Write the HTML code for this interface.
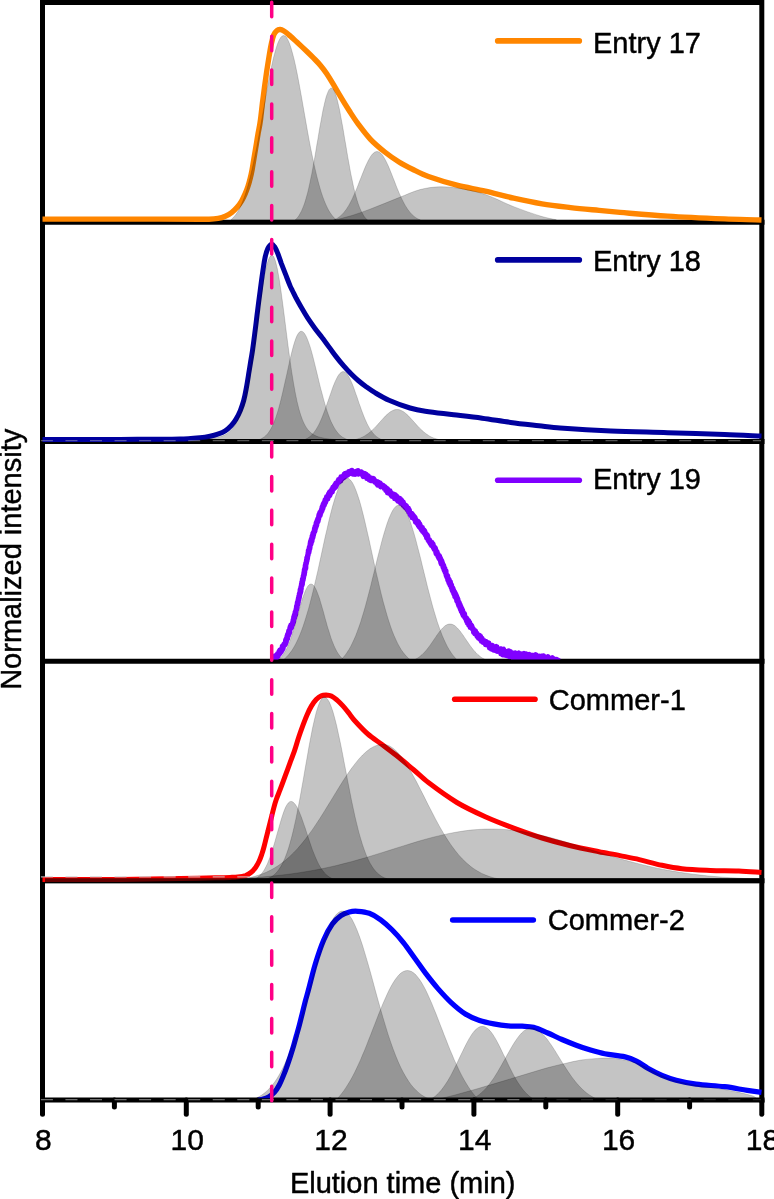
<!DOCTYPE html>
<html lang="en"><head><meta charset="utf-8"><title>Elution chromatograms</title>
<style>
html,body{margin:0;padding:0;background:#fff;}
body{width:774px;height:1199px;overflow:hidden;}
svg{display:block;}
</style></head><body>
<svg width="774" height="1199" viewBox="0 0 774 1199">
<rect width="774" height="1199" fill="#fff"/>
<defs><clipPath id="cp3"><rect x="0" y="440" width="774" height="219.4"/></clipPath><clipPath id="cp5"><rect x="0" y="880" width="774" height="218.2"/></clipPath></defs>
<g stroke="#000" stroke-width="5" fill="none" stroke-linecap="round">
<path d="M42.5,2.5 H761.8 M42.5,2.5 V1100.0 M761.8,2.5 V1100.0" stroke-linecap="square"/>
<path d="M40.0,222.2 H764.5" stroke-linecap="butt"/>
<path d="M40.0,441.6 H764.5" stroke-linecap="butt"/>
<path d="M40.0,661.3 H764.5" stroke-linecap="butt"/>
<path d="M40.0,880.7 H764.5" stroke-linecap="butt"/>
<path d="M40.0,1100.0 H764.5" stroke-linecap="butt"/>
<path d="M42.5,1100 V1114.3"/>
<path d="M114.4,1100 V1107"/>
<path d="M186.3,1100 V1114.3"/>
<path d="M258.2,1100 V1107"/>
<path d="M330.1,1100 V1114.3"/>
<path d="M402.0,1100 V1107"/>
<path d="M473.9,1100 V1114.3"/>
<path d="M545.8,1100 V1107"/>
<path d="M617.7,1100 V1114.3"/>
<path d="M689.6,1100 V1107"/>
<path d="M761.8,1100 V1114.3"/>
</g>
<path d="M42.5,219.1 C68.3,219.1 94.2,219.1 120.0,219.1 C146.7,219.1 173.3,219.2 200.0,219.2 C203.0,219.2 206.0,219.3 209.0,219.2 C212.0,219.1 215.1,218.9 218.1,218.4 C220.6,218.0 223.0,217.3 225.3,216.3 C227.5,215.4 229.7,214.2 231.6,212.7 C233.6,211.1 235.4,209.3 237.1,207.3 C238.8,205.3 240.3,203.2 241.6,201.0 C243.0,198.7 244.1,196.2 245.2,193.7 C246.2,191.3 247.1,188.9 247.9,186.5 C248.8,183.8 249.5,181.1 250.2,178.3 C250.9,175.6 251.5,172.9 252.0,170.2 C252.6,167.2 253.0,164.2 253.5,161.2 C254.0,158.2 254.5,155.1 255.0,152.1 C255.5,149.1 256.0,146.1 256.5,143.1 C257.0,140.1 257.5,137.0 258.0,134.0 C258.5,131.0 259.2,128.0 259.7,125.0 C260.0,123.0 260.3,121.0 260.6,119.0 C261.2,113.8 261.8,108.6 262.4,103.4 C263.1,98.0 263.8,92.5 264.5,87.1 C265.2,82.1 265.9,77.0 266.6,72.0 C267.4,67.0 268.2,61.9 269.0,56.9 C269.7,52.6 270.4,48.3 271.3,44.1 C272.0,41.0 272.6,37.8 273.8,34.8 C274.4,33.2 275.4,31.8 276.7,30.7 C277.6,29.9 279.0,29.4 280.2,29.5 C281.7,29.6 283.0,30.5 284.3,31.3 C286.4,32.6 288.2,34.3 290.1,35.9 C292.5,38.0 294.8,40.2 297.1,42.3 C300.2,45.2 303.3,48.1 306.4,51.0 C309.3,53.8 312.2,56.6 315.0,59.5 C316.9,61.4 318.8,63.4 320.5,65.5 C322.6,68.0 324.6,70.6 326.4,73.3 C329.1,77.3 331.6,81.5 334.1,85.7 C336.7,90.1 339.3,94.5 341.9,98.9 C344.4,103.1 347.0,107.2 349.6,111.3 C352.1,115.2 354.6,119.2 357.4,122.9 C361.6,128.5 365.7,134.2 370.5,139.3 C374.9,143.9 379.8,148.0 384.8,152.0 C389.3,155.6 394.1,158.9 399.0,162.0 C403.5,164.8 408.3,167.2 413.0,169.5 C418.1,172.0 423.1,174.6 428.4,176.5 C437.8,179.8 447.3,182.7 456.9,185.2 C466.3,187.6 475.9,189.0 485.3,191.2 C494.8,193.4 504.2,196.1 513.7,198.2 C523.1,200.3 532.5,202.3 542.0,203.9 C551.5,205.5 561.0,206.5 570.6,207.6 C580.1,208.7 589.5,209.5 599.0,210.4 C606.0,211.1 613.0,211.8 620.0,212.4 C635.9,213.7 651.8,215.1 667.7,216.1 C686.7,217.3 705.6,218.1 724.6,218.9 C736.9,219.4 749.2,219.6 761.5,220.0" fill="none" stroke="#ff8600" stroke-width="5.4" stroke-linejoin="round" stroke-linecap="butt"/>
<path d="M42.5,439.4 C68.3,439.4 94.2,439.5 120.0,439.4 C140.0,439.3 160.0,439.4 180.0,439.0 C186.7,438.9 193.3,438.3 200.0,437.7 C203.4,437.4 206.7,436.9 210.0,436.2 C212.9,435.6 215.7,434.8 218.5,433.8 C220.8,433.0 223.1,432.1 225.2,430.8 C227.4,429.4 229.3,427.6 231.1,425.7 C233.0,423.7 234.7,421.4 236.1,419.0 C237.7,416.3 239.1,413.5 240.3,410.6 C241.6,407.3 242.8,403.9 243.7,400.5 C244.7,396.7 245.5,392.7 246.2,388.8 C247.1,383.8 247.9,378.7 248.7,373.7 C249.3,369.8 250.0,365.9 250.6,362.0 C251.3,358.0 252.0,353.9 252.6,349.9 C253.5,343.5 254.3,337.2 255.1,330.8 C256.0,324.1 256.7,317.3 257.6,310.6 C258.4,303.9 259.3,297.2 260.2,290.5 C261.0,284.3 261.8,278.2 262.7,272.0 C263.5,267.0 264.1,261.9 265.2,256.9 C265.8,254.0 266.6,251.0 267.9,248.3 C268.7,246.7 269.7,244.8 271.4,244.4 C272.7,244.1 273.8,245.7 274.6,246.8 C276.0,248.8 276.9,251.2 277.8,253.5 C279.0,256.5 280.0,259.7 281.1,262.8 C282.5,266.5 283.9,270.1 285.3,273.7 C287.0,278.0 288.6,282.3 290.4,286.6 C290.9,287.8 291.5,288.9 292.1,290.0 C293.5,292.8 294.8,295.6 296.2,298.3 C297.9,301.4 299.6,304.5 301.4,307.6 C303.4,311.1 305.4,314.5 307.6,317.9 C309.9,321.4 312.3,324.8 314.8,328.2 C317.1,331.4 319.6,334.4 322.0,337.5 C324.5,340.8 326.9,344.1 329.3,347.4 C331.7,350.6 334.0,353.9 336.5,357.1 C338.8,360.1 341.2,363.0 343.7,365.9 C346.1,368.6 348.5,371.3 351.0,373.8 C353.3,376.1 355.7,378.4 358.2,380.5 C360.6,382.5 363.0,384.5 365.5,386.3 C368.6,388.5 371.7,390.8 375.0,392.7 C379.6,395.4 384.1,398.1 389.0,400.2 C395.8,403.2 402.9,405.8 410.0,408.0 C415.0,409.5 420.1,410.5 425.3,411.3 C434.7,412.8 444.2,413.6 453.7,414.8 C463.2,415.9 472.6,416.9 482.1,418.2 C491.6,419.5 501.1,421.1 510.6,422.4 C520.1,423.7 529.5,424.7 539.0,425.8 C546.0,426.6 553.0,427.6 560.0,428.1 C576.9,429.3 593.9,430.3 610.9,431.0 C629.8,431.8 648.8,432.1 667.7,432.7 C686.7,433.3 705.6,433.7 724.6,434.4 C736.9,434.8 749.2,435.5 761.5,436.1" fill="none" stroke="#00009e" stroke-width="5.0" stroke-linejoin="round" stroke-linecap="butt"/>
<path d="M271.5,660.6 L271.9,660.4 L272.3,660.3 L272.8,660.1 L273.1,658.8 L273.5,659.8 L273.8,658.8 L274.1,659.5 L274.4,659.3 L274.7,656.6 L275.0,656.1 L275.3,659.3 L275.6,656.6 L275.9,656.2 L276.2,659.1 L276.4,656.6 L276.7,657.8 L277.0,656.0 L277.3,656.3 L277.5,654.0 L277.8,655.7 L278.0,656.3 L278.3,654.5 L278.5,655.1 L278.7,654.5 L279.0,651.6 L279.2,654.2 L279.4,653.1 L279.6,651.6 L279.9,650.1 L280.1,653.2 L280.3,651.2 L280.5,651.9 L280.7,652.3 L280.9,651.2 L281.2,651.7 L281.4,649.2 L281.6,650.5 L281.8,648.7 L282.0,650.4 L282.2,649.8 L282.4,646.2 L282.6,646.0 L282.8,645.9 L283.0,648.7 L283.2,646.2 L283.4,646.6 L283.6,644.9 L283.8,645.4 L283.9,644.5 L284.1,644.0 L284.3,644.6 L284.5,644.2 L284.7,645.2 L284.9,643.9 L285.0,644.6 L285.2,643.9 L285.4,644.1 L285.5,642.4 L285.7,639.9 L285.9,642.4 L286.0,642.5 L286.2,641.8 L286.3,640.0 L286.5,640.3 L286.6,637.8 L286.8,640.0 L286.9,638.5 L287.1,636.9 L287.2,635.6 L287.4,638.6 L287.5,638.7 L287.6,634.6 L287.8,637.2 L287.9,635.1 L288.0,633.7 L288.2,633.9 L288.3,635.5 L288.4,635.5 L288.6,631.7 L288.7,633.7 L288.8,630.9 L289.0,633.3 L289.1,631.3 L289.2,633.2 L289.4,633.2 L289.5,630.9 L289.6,632.5 L289.8,629.3 L289.9,627.9 L290.1,629.7 L290.2,626.9 L290.3,627.3 L290.5,627.8 L290.6,628.2 L290.8,626.0 L290.9,625.1 L291.0,628.2 L291.2,625.5 L291.3,627.8 L291.5,627.2 L291.6,624.6 L291.8,624.6 L291.9,624.5 L292.1,624.6 L292.2,624.0 L292.3,623.5 L292.5,623.4 L292.6,624.4 L292.8,622.2 L292.9,621.5 L293.0,622.3 L293.2,619.9 L293.3,619.8 L293.4,622.3 L293.6,620.0 L293.7,619.7 L293.8,617.1 L293.9,618.4 L294.1,618.7 L294.2,616.0 L294.3,618.1 L294.4,617.8 L294.5,615.0 L294.6,617.0 L294.7,615.9 L294.8,616.4 L294.9,614.6 L295.0,615.7 L295.1,615.5 L295.2,612.1 L295.3,611.9 L295.4,614.1 L295.5,614.9 L295.6,611.5 L295.7,612.0 L295.8,612.2 L295.9,610.6 L296.0,610.4 L296.1,609.8 L296.2,609.6 L296.2,610.2 L296.3,608.6 L296.4,608.5 L296.5,609.8 L296.6,606.3 L296.7,608.1 L296.8,608.4 L296.8,606.3 L296.9,605.5 L297.0,607.6 L297.1,604.8 L297.2,604.2 L297.3,604.8 L297.4,605.5 L297.4,602.6 L297.5,603.2 L297.6,602.8 L297.7,604.5 L297.8,602.5 L297.9,603.9 L298.0,600.6 L298.0,600.9 L298.1,601.8 L298.2,602.4 L298.3,600.2 L298.4,598.9 L298.5,598.0 L298.6,599.4 L298.7,597.5 L298.7,599.7 L298.8,599.5 L298.9,596.3 L299.0,596.3 L299.1,598.2 L299.2,597.1 L299.3,597.4 L299.4,595.1 L299.4,593.8 L299.5,594.1 L299.6,595.8 L299.7,593.2 L299.8,593.1 L299.9,593.0 L300.0,592.6 L300.0,592.2 L300.1,594.0 L300.2,590.4 L300.3,589.3 L300.4,592.9 L300.5,592.2 L300.6,592.3 L300.6,589.6 L300.7,591.4 L300.8,590.9 L300.9,587.5 L301.0,589.3 L301.1,589.3 L301.2,588.2 L301.2,587.2 L301.3,585.8 L301.4,585.7 L301.5,584.8 L301.6,583.7 L301.7,585.5 L301.7,583.9 L301.8,585.7 L301.9,582.1 L302.0,585.3 L302.1,584.0 L302.2,584.6 L302.3,584.1 L302.3,583.7 L302.4,581.9 L302.5,579.2 L302.6,581.8 L302.7,579.0 L302.8,579.2 L302.8,580.3 L302.9,579.3 L303.0,578.4 L303.1,580.2 L303.2,578.5 L303.3,576.9 L303.3,576.2 L303.4,578.3 L303.5,576.3 L303.6,577.2 L303.7,575.0 L303.8,573.9 L303.8,574.9 L303.9,575.7 L304.0,572.6 L304.1,574.8 L304.2,575.0 L304.3,574.1 L304.3,573.8 L304.4,569.9 L304.5,572.1 L304.6,572.7 L304.7,568.9 L304.8,569.4 L304.8,569.0 L304.9,569.7 L305.0,568.9 L305.1,568.7 L305.2,569.6 L305.3,565.9 L305.3,565.7 L305.4,565.6 L305.5,565.2 L305.6,564.6 L305.7,568.0 L305.7,567.1 L305.8,563.5 L305.9,564.8 L306.0,563.6 L306.1,563.2 L306.2,563.0 L306.2,563.8 L306.3,563.2 L306.4,561.8 L306.5,560.7 L306.5,560.9 L306.6,559.6 L306.7,561.0 L306.8,561.3 L306.9,559.5 L306.9,557.8 L307.0,557.8 L307.1,558.3 L307.2,558.8 L307.3,559.2 L307.3,557.1 L307.4,558.4 L307.5,557.3 L307.6,556.1 L307.7,555.4 L307.8,555.6 L307.8,556.0 L307.9,554.4 L308.0,555.2 L308.1,553.8 L308.2,552.5 L308.3,553.3 L308.4,553.6 L308.4,550.6 L308.5,551.7 L308.6,551.3 L308.7,552.8 L308.8,552.6 L308.9,549.9 L309.0,551.7 L309.1,550.8 L309.2,548.2 L309.3,548.7 L309.4,546.9 L309.5,549.4 L309.6,548.3 L309.7,548.9 L309.8,548.1 L309.9,547.2 L310.0,547.1 L310.1,546.0 L310.2,543.7 L310.3,545.3 L310.4,542.5 L310.5,542.7 L310.6,544.9 L310.7,541.5 L310.8,541.3 L310.9,540.9 L311.0,543.8 L311.1,540.5 L311.2,539.5 L311.3,542.5 L311.5,539.1 L311.6,541.8 L311.7,540.7 L311.8,541.0 L311.9,541.1 L312.0,539.1 L312.1,539.6 L312.2,536.1 L312.3,538.7 L312.5,537.3 L312.6,537.7 L312.7,534.8 L312.8,537.1 L312.9,537.5 L313.0,533.5 L313.1,534.2 L313.2,534.8 L313.4,535.5 L313.5,532.7 L313.6,532.0 L313.7,531.9 L313.8,533.1 L313.9,533.3 L314.0,531.4 L314.2,530.9 L314.3,530.6 L314.4,530.0 L314.5,529.9 L314.6,528.1 L314.8,529.5 L314.9,531.1 L315.0,528.4 L315.1,529.4 L315.2,526.5 L315.4,528.4 L315.5,528.3 L315.6,527.5 L315.7,526.5 L315.8,526.0 L316.0,526.2 L316.1,526.9 L316.2,523.4 L316.3,522.8 L316.5,525.1 L316.6,525.5 L316.7,523.4 L316.8,522.7 L317.0,523.5 L317.1,520.9 L317.2,520.8 L317.4,520.2 L317.5,521.4 L317.6,519.9 L317.7,519.1 L317.9,520.7 L318.0,521.4 L318.1,518.3 L318.3,519.6 L318.4,518.0 L318.5,519.4 L318.7,517.9 L318.8,516.2 L318.9,515.6 L319.1,514.4 L319.2,516.0 L319.3,515.2 L319.5,513.9 L319.6,514.3 L319.7,513.8 L319.9,515.3 L320.0,512.3 L320.1,515.5 L320.3,512.9 L320.4,513.1 L320.6,512.1 L320.7,513.3 L320.8,512.9 L321.0,511.4 L321.1,510.7 L321.3,511.3 L321.4,511.5 L321.6,509.2 L321.7,510.2 L321.9,510.8 L322.0,508.4 L322.2,507.0 L322.3,506.6 L322.5,508.3 L322.6,507.7 L322.8,508.6 L322.9,507.8 L323.1,504.8 L323.3,504.2 L323.4,504.2 L323.6,503.5 L323.8,505.3 L323.9,505.6 L324.1,505.4 L324.3,502.3 L324.5,504.5 L324.7,501.8 L324.9,501.9 L325.0,502.8 L325.2,499.8 L325.4,499.4 L325.6,502.2 L325.8,499.5 L326.0,499.5 L326.2,500.0 L326.4,500.1 L326.6,496.9 L326.8,497.9 L327.0,498.0 L327.2,497.9 L327.4,496.3 L327.6,497.6 L327.8,498.8 L328.0,496.0 L328.2,496.3 L328.5,494.2 L328.7,494.5 L328.9,495.8 L329.1,493.1 L329.3,496.0 L329.5,495.8 L329.7,492.0 L329.9,495.2 L330.1,492.5 L330.4,493.8 L330.6,493.4 L330.8,491.2 L331.0,492.4 L331.2,492.0 L331.5,492.3 L331.7,489.7 L331.9,491.4 L332.2,492.0 L332.4,490.4 L332.6,489.5 L332.9,487.4 L333.1,488.7 L333.3,487.8 L333.6,489.0 L333.8,488.5 L334.0,487.7 L334.3,485.8 L334.5,487.4 L334.7,487.0 L335.0,484.8 L335.2,487.5 L335.5,486.1 L335.7,483.6 L336.0,486.6 L336.2,483.0 L336.5,483.5 L336.7,484.8 L337.0,483.9 L337.2,483.4 L337.5,483.5 L337.7,482.4 L338.0,481.5 L338.3,480.6 L338.5,479.8 L338.8,482.2 L339.1,482.1 L339.3,480.9 L339.6,481.4 L339.9,479.5 L340.1,478.8 L340.4,479.0 L340.7,480.8 L341.0,477.0 L341.2,478.6 L341.5,477.3 L341.8,479.2 L342.1,477.2 L342.4,476.8 L342.7,476.8 L342.9,477.1 L343.2,477.8 L343.5,475.8 L343.9,477.6 L344.2,474.3 L344.5,474.7 L344.8,473.7 L345.1,473.5 L345.5,476.1 L345.8,475.7 L346.2,473.2 L346.6,473.0 L346.9,473.7 L347.3,474.9 L347.7,475.0 L348.0,474.6 L348.4,473.7 L348.8,471.7 L349.2,472.6 L349.6,471.6 L350.0,472.9 L350.4,473.0 L350.8,471.3 L351.2,471.5 L351.6,473.6 L352.0,470.4 L352.4,473.6 L352.8,473.9 L353.2,474.1 L353.6,471.8 L354.1,472.5 L354.5,472.6 L354.9,472.8 L355.3,474.3 L355.7,473.1 L356.1,471.5 L356.5,473.9 L356.9,472.4 L357.3,473.0 L357.7,473.6 L358.1,470.6 L358.5,474.0 L358.9,473.6 L359.3,473.1 L359.7,473.3 L360.1,473.2 L360.5,472.2 L360.9,473.8 L361.3,471.9 L361.7,474.0 L362.1,474.7 L362.4,474.0 L362.8,474.7 L363.2,476.5 L363.5,476.4 L363.9,473.4 L364.3,476.4 L364.6,475.9 L365.0,473.6 L365.4,475.1 L365.7,474.8 L366.1,474.3 L366.5,476.5 L366.8,478.3 L367.2,476.0 L367.5,478.5 L367.9,477.9 L368.2,475.8 L368.6,479.0 L369.0,478.1 L369.3,479.7 L369.7,479.0 L370.0,479.3 L370.4,477.9 L370.7,480.0 L371.0,480.7 L371.4,480.7 L371.7,479.1 L372.1,480.6 L372.4,479.7 L372.8,478.3 L373.1,478.3 L373.5,478.6 L373.8,479.4 L374.1,479.4 L374.5,481.1 L374.8,482.1 L375.1,481.7 L375.5,481.4 L375.8,482.6 L376.1,481.4 L376.5,482.3 L376.8,483.8 L377.1,482.5 L377.4,481.8 L377.8,485.1 L378.1,484.6 L378.4,483.3 L378.8,483.6 L379.1,484.5 L379.4,485.0 L379.7,483.7 L380.1,483.0 L380.4,484.1 L380.7,486.8 L381.0,484.3 L381.3,485.9 L381.7,485.1 L382.0,485.4 L382.3,485.4 L382.6,486.7 L383.0,485.9 L383.3,485.6 L383.6,486.2 L383.9,486.7 L384.2,488.3 L384.6,486.7 L384.9,486.8 L385.2,488.8 L385.5,488.9 L385.8,490.4 L386.2,487.9 L386.5,489.6 L386.8,489.9 L387.1,488.6 L387.5,492.8 L387.8,489.9 L388.1,489.6 L388.4,491.5 L388.8,490.4 L389.1,492.6 L389.4,491.7 L389.7,491.0 L390.0,491.0 L390.4,494.1 L390.7,492.4 L391.0,494.8 L391.3,493.7 L391.7,496.0 L392.0,493.6 L392.3,493.6 L392.6,493.9 L393.0,496.5 L393.3,496.0 L393.6,495.0 L393.9,494.3 L394.2,497.0 L394.6,498.5 L394.9,497.1 L395.2,494.9 L395.5,495.3 L395.8,495.8 L396.1,496.4 L396.5,496.0 L396.8,496.4 L397.1,499.1 L397.4,500.4 L397.8,497.7 L398.1,501.2 L398.4,499.4 L398.7,501.0 L399.1,501.7 L399.4,502.0 L399.7,498.5 L400.0,499.8 L400.3,501.4 L400.7,503.0 L401.0,499.7 L401.3,500.8 L401.6,503.4 L401.9,500.6 L402.2,502.0 L402.5,502.1 L402.8,503.8 L403.0,505.1 L403.3,502.2 L403.6,504.9 L403.9,505.2 L404.1,505.9 L404.4,505.0 L404.7,506.9 L404.9,504.9 L405.2,505.4 L405.4,505.0 L405.7,507.6 L405.9,506.7 L406.2,506.1 L406.4,506.0 L406.7,508.7 L406.9,508.5 L407.1,509.3 L407.4,508.3 L407.6,509.0 L407.8,508.0 L408.1,510.6 L408.3,508.1 L408.5,510.3 L408.7,511.9 L409.0,511.9 L409.2,509.8 L409.4,510.7 L409.7,513.6 L409.9,513.1 L410.1,514.4 L410.3,514.7 L410.6,513.3 L410.8,515.5 L411.0,515.1 L411.3,513.8 L411.5,514.3 L411.8,513.4 L412.0,515.1 L412.2,517.7 L412.5,514.5 L412.7,516.8 L413.0,515.2 L413.2,515.4 L413.5,518.1 L413.7,516.7 L414.0,516.2 L414.2,517.0 L414.5,519.4 L414.7,519.4 L415.0,517.4 L415.2,518.6 L415.5,522.0 L415.7,519.2 L416.0,521.0 L416.2,520.7 L416.5,522.5 L416.7,522.1 L417.0,523.2 L417.2,522.5 L417.5,521.3 L417.7,521.6 L418.0,521.5 L418.2,525.0 L418.5,522.3 L418.7,522.3 L419.0,526.6 L419.2,523.7 L419.4,526.9 L419.7,523.9 L419.9,525.8 L420.2,525.1 L420.4,528.0 L420.6,527.4 L420.9,527.9 L421.1,528.7 L421.3,529.5 L421.6,527.6 L421.8,529.0 L422.0,528.7 L422.3,527.6 L422.5,531.0 L422.7,530.4 L423.0,531.6 L423.2,529.4 L423.4,531.1 L423.7,531.2 L423.9,532.6 L424.1,530.2 L424.3,531.7 L424.6,532.6 L424.8,531.2 L425.0,533.6 L425.3,534.7 L425.5,533.7 L425.7,535.0 L425.9,535.2 L426.2,533.9 L426.4,534.8 L426.6,537.8 L426.8,535.4 L427.0,536.1 L427.3,535.0 L427.5,535.9 L427.7,536.1 L427.9,539.6 L428.1,539.1 L428.4,540.1 L428.6,540.9 L428.8,539.7 L429.0,541.4 L429.2,540.0 L429.5,539.9 L429.7,542.5 L429.9,542.6 L430.1,543.2 L430.3,541.5 L430.5,543.1 L430.7,541.9 L431.0,544.7 L431.2,544.8 L431.4,542.5 L431.6,545.5 L431.8,542.7 L432.0,542.7 L432.2,545.7 L432.5,544.2 L432.7,545.5 L432.9,546.4 L433.1,544.2 L433.3,547.5 L433.5,545.9 L433.7,546.9 L433.9,546.9 L434.1,548.9 L434.3,549.3 L434.5,547.7 L434.7,547.3 L434.9,548.4 L435.1,549.3 L435.3,548.2 L435.5,548.9 L435.7,551.8 L435.9,551.9 L436.1,553.4 L436.3,553.8 L436.5,553.7 L436.7,552.0 L436.9,551.4 L437.1,552.4 L437.3,553.4 L437.5,554.1 L437.6,554.5 L437.8,554.1 L438.0,556.5 L438.2,554.5 L438.4,555.6 L438.6,557.8 L438.7,557.8 L438.9,556.0 L439.1,556.1 L439.3,558.9 L439.4,555.9 L439.6,556.8 L439.8,558.8 L440.0,559.2 L440.1,558.0 L440.3,557.9 L440.5,558.9 L440.6,561.7 L440.8,560.8 L441.0,563.3 L441.2,562.9 L441.3,564.0 L441.5,560.4 L441.7,561.4 L441.8,561.1 L442.0,563.2 L442.2,563.2 L442.3,562.4 L442.5,564.8 L442.6,563.3 L442.8,564.6 L443.0,564.7 L443.1,567.4 L443.3,566.2 L443.5,565.9 L443.6,565.3 L443.8,567.3 L443.9,568.5 L444.1,569.1 L444.2,570.4 L444.4,570.4 L444.5,568.4 L444.7,568.3 L444.8,571.3 L445.0,571.8 L445.1,571.0 L445.3,572.7 L445.4,571.9 L445.6,571.1 L445.7,571.0 L445.9,570.8 L446.0,573.8 L446.2,575.2 L446.3,575.6 L446.4,574.2 L446.6,575.4 L446.7,576.8 L446.9,576.7 L447.0,576.2 L447.2,575.8 L447.3,576.6 L447.5,575.5 L447.6,576.0 L447.7,578.4 L447.9,580.1 L448.0,578.6 L448.2,578.4 L448.3,578.5 L448.5,579.3 L448.6,581.2 L448.8,580.1 L448.9,582.6 L449.1,579.6 L449.3,580.6 L449.4,581.8 L449.6,581.7 L449.7,584.0 L449.9,584.2 L450.0,585.0 L450.2,584.1 L450.4,582.0 L450.5,584.6 L450.7,584.9 L450.8,585.0 L451.0,584.5 L451.2,586.7 L451.3,587.9 L451.5,584.9 L451.7,587.6 L451.8,586.7 L452.0,587.7 L452.1,589.7 L452.3,590.3 L452.5,589.4 L452.6,587.8 L452.8,591.3 L453.0,588.5 L453.1,589.7 L453.3,592.0 L453.5,590.2 L453.6,590.4 L453.8,593.6 L453.9,593.9 L454.1,591.7 L454.3,592.4 L454.4,592.3 L454.6,592.0 L454.8,592.9 L454.9,596.3 L455.1,592.9 L455.3,593.9 L455.4,594.1 L455.6,594.0 L455.7,596.2 L455.9,597.5 L456.1,598.3 L456.2,597.8 L456.4,598.9 L456.5,595.9 L456.7,597.4 L456.8,600.7 L457.0,597.3 L457.2,598.5 L457.3,599.8 L457.5,599.2 L457.6,600.8 L457.8,599.0 L457.9,600.2 L458.1,603.6 L458.2,600.6 L458.4,604.1 L458.5,601.5 L458.7,605.3 L458.8,604.3 L459.0,604.5 L459.2,602.8 L459.3,602.8 L459.5,606.1 L459.6,604.0 L459.8,604.5 L459.9,607.5 L460.1,608.1 L460.2,605.0 L460.4,609.2 L460.6,607.8 L460.7,607.5 L460.9,606.7 L461.1,608.3 L461.2,611.1 L461.4,608.5 L461.6,608.3 L461.7,608.7 L461.9,609.0 L462.1,610.3 L462.2,613.0 L462.4,609.9 L462.6,610.7 L462.8,614.2 L463.0,614.8 L463.1,615.1 L463.3,612.4 L463.5,613.2 L463.7,616.0 L463.9,614.4 L464.1,615.7 L464.3,614.4 L464.4,613.6 L464.6,615.3 L464.8,617.3 L465.0,617.8 L465.2,617.3 L465.4,617.2 L465.6,617.9 L465.8,617.8 L466.0,618.5 L466.2,620.1 L466.4,617.8 L466.6,619.8 L466.8,621.6 L467.0,621.6 L467.2,619.1 L467.4,622.8 L467.6,622.6 L467.8,620.1 L468.0,620.9 L468.2,621.0 L468.5,620.7 L468.7,624.9 L468.9,622.8 L469.1,625.1 L469.3,622.3 L469.5,622.2 L469.7,626.1 L470.0,626.2 L470.2,627.3 L470.4,626.4 L470.6,626.0 L470.9,627.4 L471.1,624.9 L471.3,627.1 L471.5,627.0 L471.8,626.1 L472.0,628.4 L472.2,627.6 L472.5,628.7 L472.7,628.4 L473.0,628.5 L473.2,629.0 L473.4,630.4 L473.7,632.3 L473.9,632.4 L474.2,632.4 L474.4,632.6 L474.7,630.7 L474.9,633.9 L475.2,631.2 L475.4,630.9 L475.7,632.8 L476.0,634.1 L476.2,632.8 L476.5,634.4 L476.7,633.2 L477.0,636.3 L477.3,634.5 L477.6,634.9 L477.8,635.4 L478.1,637.2 L478.4,637.9 L478.6,636.3 L478.9,636.2 L479.2,637.3 L479.5,635.3 L479.7,637.0 L480.0,639.1 L480.3,639.1 L480.6,636.4 L480.9,640.0 L481.1,638.3 L481.4,641.2 L481.7,638.8 L482.0,638.4 L482.3,640.1 L482.6,641.9 L482.9,640.2 L483.2,642.4 L483.5,642.0 L483.8,640.7 L484.1,640.7 L484.4,641.9 L484.7,641.6 L485.0,641.8 L485.3,643.3 L485.6,644.6 L485.9,643.5 L486.2,641.7 L486.5,642.3 L486.8,643.3 L487.2,644.7 L487.5,642.7 L487.8,642.6 L488.1,644.0 L488.5,644.0 L488.8,643.0 L489.1,645.7 L489.5,647.8 L489.8,646.1 L490.2,647.3 L490.5,648.0 L490.9,648.2 L491.2,648.8 L491.6,646.7 L492.0,648.1 L492.3,645.4 L492.7,649.5 L493.1,647.1 L493.4,647.8 L493.8,650.1 L494.2,647.2 L494.5,646.8 L494.9,650.3 L495.3,649.3 L495.6,646.8 L496.0,646.6 L496.4,648.5 L496.8,646.8 L497.1,651.4 L497.5,648.1 L497.9,648.8 L498.3,649.5 L498.6,650.4 L499.0,650.1 L499.4,651.3 L499.8,651.7 L500.2,650.6 L500.5,648.9 L500.9,653.9 L501.3,652.5 L501.7,649.2 L502.1,651.4 L502.5,653.3 L502.9,654.8 L503.3,649.6 L503.6,649.4 L504.0,652.3 L504.4,652.1 L504.8,655.0 L505.2,654.7 L505.6,651.9 L506.0,652.6 L506.4,653.7 L506.8,655.6 L507.2,651.6 L507.6,652.9 L508.0,651.1 L508.4,654.6 L508.8,650.9 L509.2,656.6 L509.6,654.2 L510.0,654.6 L510.4,651.6 L510.8,652.6 L511.2,654.2 L511.6,656.7 L512.0,654.8 L512.4,653.3 L512.8,657.7 L513.2,655.8 L513.6,655.0 L514.0,653.1 L514.5,653.7 L514.9,657.5 L515.3,652.9 L515.7,655.4 L516.1,656.0 L516.5,654.4 L516.9,657.1 L517.3,658.0 L517.7,657.7 L518.1,657.1 L518.5,653.8 L518.9,653.0 L519.3,655.3 L519.7,654.6 L520.1,654.0 L520.5,658.2 L520.9,654.2 L521.3,658.0 L521.7,658.8 L522.1,653.8 L522.6,658.7 L523.0,655.6 L523.4,654.5 L523.8,654.3 L524.2,653.5 L524.6,656.4 L525.0,655.7 L525.4,658.6 L525.8,658.6 L526.2,653.8 L526.6,656.0 L527.0,656.0 L527.4,654.7 L527.8,655.2 L528.2,655.3 L528.6,658.0 L529.0,655.9 L529.4,654.5 L529.8,655.2 L530.2,656.6 L530.6,657.4 L531.0,655.5 L531.4,658.4 L531.9,655.4 L532.3,658.3 L532.7,657.9 L533.1,655.3 L533.5,658.9 L533.9,656.7 L534.3,657.6 L534.7,658.0 L535.1,658.3 L535.5,657.2 L535.9,654.8 L536.3,659.4 L536.7,659.9 L537.1,657.6 L537.5,658.2 L537.9,656.3 L538.3,660.3 L538.7,659.0 L539.1,656.1 L539.5,659.9 L539.9,660.9 L540.3,657.0 L540.7,661.1 L541.2,657.9 L541.6,656.1 L542.0,659.4 L542.4,657.1 L542.8,659.6 L543.2,658.7 L543.6,655.8 L544.0,658.5 L544.4,660.5 L544.8,658.2 L545.2,658.6 L545.6,660.6 L546.0,658.2 L546.4,658.5 L546.8,659.1 L547.2,660.4 L547.6,657.2 L548.0,656.7 L548.4,660.1 L548.8,659.1 L549.2,658.0 L549.6,660.7 L550.1,660.6 L550.5,659.2 L550.9,661.0 L551.3,660.4 L551.7,660.1 L552.1,658.6 L552.5,657.8 L552.9,660.0 L553.3,660.2 L553.7,659.1 L554.1,659.6 L554.5,659.9 L554.9,659.2 L555.3,660.2 L555.7,660.0 L556.1,659.8 L556.5,659.5 L557.0,660.3 L557.4,660.1 L557.8,660.7 L558.2,660.2 L558.6,660.6 L559.1,660.8 L559.5,660.9 L559.9,661.0" fill="none" stroke="#8000ff" stroke-width="5.3" stroke-linejoin="round" stroke-linecap="butt" clip-path="url(#cp3)"/>
<path d="M42.5,879.6 C68.3,879.5 94.2,879.6 120.0,879.4 C140.0,879.3 160.0,878.9 180.0,878.6 C191.7,878.4 203.3,878.1 215.0,877.8 C220.0,877.7 225.0,877.6 230.0,877.4 C232.6,877.3 235.2,877.3 237.8,877.0 C240.4,876.7 243.0,876.4 245.5,875.6 C247.5,874.9 249.3,873.8 250.9,872.5 C252.7,871.0 254.2,869.3 255.6,867.4 C257.0,865.5 258.1,863.3 259.1,861.2 C260.2,859.0 261.0,856.6 261.8,854.3 C262.7,851.7 263.4,849.1 264.1,846.5 C264.8,843.9 265.4,841.4 266.0,838.8 C266.7,836.2 267.3,833.6 268.0,831.0 C268.6,828.4 269.3,825.9 269.9,823.3 C270.6,820.7 271.2,818.1 271.9,815.5 C272.5,812.9 273.1,810.4 273.8,807.8 C274.5,805.2 275.2,802.6 276.1,800.0 C277.3,796.5 278.8,793.1 280.1,789.7 C281.9,785.0 283.6,780.4 285.3,775.7 C286.9,771.4 288.4,767.2 290.0,762.9 C291.6,758.6 293.2,754.4 294.7,750.1 C296.1,745.9 297.3,741.5 298.7,737.3 C300.0,733.4 301.4,729.5 302.8,725.7 C304.1,722.2 305.4,718.6 306.9,715.2 C308.3,712.0 309.7,708.9 311.5,705.9 C312.8,703.6 314.4,701.4 316.2,699.5 C317.7,698.0 319.5,696.6 321.4,695.7 C322.8,695.0 324.4,694.9 326.0,694.9 C327.8,695.0 329.7,695.2 331.3,696.0 C333.4,697.0 335.3,698.6 337.1,700.1 C339.2,701.9 341.1,703.9 342.9,705.9 C344.9,708.1 346.8,710.5 348.7,712.9 C350.8,715.6 352.7,718.5 355.0,721.0 C359.1,725.5 363.2,730.0 367.8,734.0 C372.2,737.9 377.3,741.0 382.0,744.5 C386.8,748.1 391.6,751.6 396.2,755.3 C402.0,759.9 407.6,764.7 413.3,769.5 C418.4,773.8 423.1,778.6 428.4,782.6 C437.6,789.6 447.0,796.5 456.9,802.5 C466.0,807.9 475.7,812.4 485.3,816.7 C494.6,820.9 504.1,824.5 513.7,828.1 C523.1,831.6 532.5,835.0 542.1,838.0 C551.5,840.9 561.0,843.4 570.6,845.7 C580.0,848.0 589.5,849.8 599.0,851.7 C606.0,853.1 613.0,854.2 620.0,855.6 C626.4,856.9 632.9,858.1 639.3,859.6 C646.9,861.4 654.4,863.7 662.0,865.3 C668.6,866.7 675.2,868.0 681.9,868.7 C691.3,869.7 700.8,870.0 710.3,870.4 C719.8,870.8 729.3,870.6 738.8,871.0 C746.4,871.3 753.9,871.9 761.5,872.4" fill="none" stroke="#ff0000" stroke-width="5.0" stroke-linejoin="round" stroke-linecap="butt"/>
<path d="M258.0,1100.2 C259.2,1100.0 260.4,1099.9 261.6,1099.5 C264.0,1098.8 266.4,1098.2 268.6,1097.0 C270.8,1095.8 272.7,1094.2 274.4,1092.3 C276.3,1090.2 277.8,1087.8 279.1,1085.3 C280.9,1082.0 282.3,1078.4 283.7,1074.9 C285.0,1071.8 286.1,1068.7 287.2,1065.6 C288.4,1062.1 289.6,1058.6 290.7,1055.1 C291.7,1052.0 292.7,1048.9 293.6,1045.8 C294.6,1042.3 295.5,1038.8 296.5,1035.3 C297.5,1031.8 298.5,1028.4 299.4,1024.9 C300.4,1021.0 301.3,1017.2 302.3,1013.3 C303.3,1009.4 304.2,1005.5 305.2,1001.6 C306.1,998.1 307.2,994.7 308.1,991.2 C310.5,982.1 312.6,972.9 315.3,963.9 C317.8,955.7 320.4,947.6 323.8,939.7 C326.1,934.3 328.9,928.9 332.3,924.1 C334.6,920.8 337.6,917.9 340.9,915.6 C343.4,913.8 346.4,912.7 349.4,911.9 C352.2,911.2 355.1,911.1 357.9,911.3 C361.7,911.6 365.7,912.0 369.3,913.3 C373.4,914.8 377.2,917.2 380.7,919.8 C384.8,922.8 388.5,926.2 392.0,929.8 C396.0,933.8 399.8,938.1 403.4,942.6 C407.4,947.6 411.0,953.0 414.8,958.2 C418.6,963.4 422.2,968.8 426.1,973.9 C429.8,978.7 433.5,983.5 437.5,988.1 C441.9,993.1 446.3,998.1 451.2,1002.6 C455.6,1006.7 460.3,1010.8 465.4,1014.0 C469.8,1016.8 474.7,1018.8 479.6,1020.5 C484.2,1022.1 489.0,1023.0 493.8,1023.9 C498.5,1024.8 503.2,1025.5 508.0,1025.9 C512.7,1026.3 517.5,1025.9 522.2,1026.2 C526.0,1026.4 529.9,1026.3 533.6,1027.3 C538.5,1028.6 543.1,1031.0 547.8,1033.0 C552.6,1035.1 557.2,1037.4 562.0,1039.5 C566.7,1041.5 571.4,1043.4 576.2,1045.2 C580.9,1047.0 585.7,1048.6 590.5,1050.1 C595.2,1051.5 599.9,1052.9 604.7,1053.8 C611.4,1055.1 618.4,1055.4 625.1,1056.9 C629.0,1057.8 632.8,1059.3 636.4,1061.1 C640.4,1063.1 643.9,1066.0 647.8,1068.2 C652.4,1070.8 657.1,1073.2 662.0,1075.3 C666.6,1077.2 671.4,1078.9 676.2,1080.2 C682.7,1081.9 689.4,1083.2 696.1,1084.1 C705.6,1085.4 715.1,1085.5 724.6,1086.7 C732.2,1087.6 739.7,1089.2 747.3,1090.4 C752.0,1091.1 756.8,1091.7 761.5,1092.4" fill="none" stroke="#0000ff" stroke-width="5.2" stroke-linejoin="round" stroke-linecap="butt" clip-path="url(#cp5)"/>
<g fill="#000" fill-opacity="0.23" stroke="#000" stroke-opacity="0.2" stroke-width="0.8">
<path d="M230.8,220.0 L230.8,220.0 232.3,218.6 233.8,217.0 235.3,215.2 236.9,213.0 238.4,210.6 239.9,207.7 241.4,204.5 242.9,200.9 244.4,196.9 245.9,192.5 247.4,187.5 248.9,182.1 250.4,176.3 251.9,169.9 253.4,163.2 254.9,156.0 256.5,148.4 258.0,140.5 259.5,132.3 261.0,123.8 262.5,115.3 264.0,106.7 265.5,98.1 267.0,89.7 268.5,81.6 270.0,73.8 271.5,66.4 273.0,59.7 274.6,53.6 276.1,48.2 277.6,43.7 279.1,40.2 280.6,37.6 282.1,36.0 283.6,35.5 285.1,36.0 286.6,37.6 288.1,40.2 289.6,43.7 291.1,48.2 292.6,53.6 294.2,59.7 295.7,66.4 297.2,73.8 298.7,81.6 300.2,89.7 301.7,98.1 303.2,106.7 304.7,115.3 306.2,123.8 307.7,132.3 309.2,140.5 310.7,148.4 312.3,156.0 313.8,163.2 315.3,169.9 316.8,176.3 318.3,182.1 319.8,187.5 321.3,192.5 322.8,196.9 324.3,200.9 325.8,204.5 327.3,207.7 328.8,210.6 330.3,213.0 331.9,215.2 333.4,217.0 334.9,218.6 336.4,220.0 L336.4,220.0 Z"/>
<path d="M295.2,220.0 L295.2,220.0 296.2,219.0 297.2,217.9 298.3,216.6 299.3,215.0 300.3,213.2 301.4,211.2 302.4,208.9 303.4,206.4 304.5,203.5 305.5,200.3 306.5,196.8 307.6,192.9 308.6,188.7 309.6,184.2 310.6,179.3 311.7,174.2 312.7,168.8 313.7,163.1 314.8,157.2 315.8,151.2 316.8,145.1 317.9,138.9 318.9,132.8 319.9,126.8 321.0,121.0 322.0,115.4 323.0,110.1 324.1,105.3 325.1,100.9 326.1,97.1 327.2,93.9 328.2,91.4 329.2,89.5 330.3,88.4 331.3,88.0 332.3,88.4 333.4,89.5 334.4,91.4 335.4,93.9 336.5,97.1 337.5,100.9 338.5,105.3 339.6,110.1 340.6,115.4 341.6,121.0 342.7,126.8 343.7,132.8 344.7,138.9 345.8,145.1 346.8,151.2 347.8,157.2 348.9,163.1 349.9,168.8 350.9,174.2 352.0,179.3 353.0,184.2 354.0,188.7 355.0,192.9 356.1,196.8 357.1,200.3 358.1,203.5 359.2,206.4 360.2,208.9 361.2,211.2 362.3,213.2 363.3,215.0 364.3,216.6 365.4,217.9 366.4,219.0 367.4,220.0 L367.4,220.0 Z"/>
<path d="M333.6,220.0 L333.6,220.0 334.8,219.5 336.1,218.9 337.3,218.2 338.5,217.4 339.8,216.5 341.0,215.4 342.3,214.3 343.5,212.9 344.7,211.4 346.0,209.8 347.2,207.9 348.5,205.9 349.7,203.8 350.9,201.4 352.2,198.9 353.4,196.2 354.7,193.4 355.9,190.5 357.2,187.4 358.4,184.3 359.6,181.1 360.9,177.9 362.1,174.8 363.4,171.6 364.6,168.6 365.8,165.7 367.1,163.0 368.3,160.5 369.6,158.2 370.8,156.2 372.0,154.6 373.3,153.2 374.5,152.3 375.8,151.7 377.0,151.5 378.2,151.7 379.5,152.3 380.7,153.2 382.0,154.6 383.2,156.2 384.4,158.2 385.7,160.5 386.9,163.0 388.2,165.7 389.4,168.6 390.6,171.6 391.9,174.8 393.1,177.9 394.4,181.1 395.6,184.3 396.8,187.4 398.1,190.5 399.3,193.4 400.6,196.2 401.8,198.9 403.1,201.4 404.3,203.8 405.5,205.9 406.8,207.9 408.0,209.8 409.3,211.4 410.5,212.9 411.7,214.3 413.0,215.4 414.2,216.5 415.5,217.4 416.7,218.2 417.9,218.9 419.2,219.5 420.4,220.0 L420.4,220.0 Z"/>
<path d="M335.0,220.0 C340.7,218.5 346.4,217.2 352.0,215.5 C358.2,213.6 364.4,211.3 370.5,209.0 C380.1,205.4 389.5,201.3 399.0,197.6 C406.0,194.9 412.8,191.5 420.0,189.6 C426.4,187.9 433.1,187.0 439.8,186.8 C446.6,186.6 453.3,187.4 460.0,188.5 C468.5,189.9 477.1,191.7 485.3,194.5 C495.1,197.8 504.1,203.0 513.7,206.7 C523.0,210.3 532.5,213.7 542.1,216.6 C546.7,218.0 551.6,218.7 556.3,219.8 L556.3,220.0 L335.0,220.0 Z"/>
</g>
<g fill="#000" fill-opacity="0.23" stroke="#000" stroke-opacity="0.2" stroke-width="0.8">
<path d="M199.9,440.0 L199.9,439.5 201.7,439.4 203.5,439.3 205.3,439.1 207.1,439.0 208.9,438.8 210.7,438.6 212.5,438.3 214.3,438.0 216.1,437.7 217.9,437.3 219.7,436.8 221.5,436.3 223.3,435.6 225.1,434.7 226.9,433.7 228.7,432.4 230.5,430.8 232.3,428.9 234.1,426.5 235.9,423.5 237.7,419.8 239.5,415.4 241.3,410.1 243.1,403.9 244.9,396.6 246.7,388.3 248.5,378.9 250.3,368.4 252.1,357.1 253.9,345.0 255.7,332.4 257.5,319.6 259.3,307.0 261.1,294.9 262.9,283.8 264.7,274.0 266.5,266.0 268.3,260.0 270.1,256.3 271.9,255.0 273.7,256.6 275.5,261.2 277.3,268.6 279.1,278.5 280.9,290.3 282.7,303.5 284.5,317.6 286.3,331.9 288.1,346.0 289.9,359.4 291.7,371.9 293.5,383.1 295.3,393.1 297.1,401.7 298.9,409.0 300.7,415.0 302.5,420.0 304.3,424.0 306.1,427.2 307.9,429.7 309.7,431.7 311.5,433.3 313.3,434.5 315.1,435.5 316.9,436.3 318.7,436.9 320.5,437.4 322.3,437.8 324.1,438.2 325.9,438.5 327.7,438.7 329.5,438.9 331.3,439.1 333.1,439.3 334.9,439.4 336.7,439.5 338.5,439.6 340.3,439.7 342.1,439.7 343.9,439.8 L343.9,440.0 Z"/>
<path d="M257.7,440.0 L257.7,440.0 259.0,439.6 260.3,439.2 261.6,438.6 262.9,437.8 264.3,436.9 265.6,435.8 266.9,434.5 268.2,433.0 269.5,431.1 270.8,429.0 272.1,426.5 273.4,423.6 274.7,420.4 276.1,416.7 277.4,412.7 278.7,408.3 280.0,403.5 281.3,398.3 282.6,392.8 283.9,387.1 285.2,381.2 286.6,375.2 287.9,369.2 289.2,363.2 290.5,357.5 291.8,352.1 293.1,347.1 294.4,342.6 295.7,338.8 297.0,335.6 298.4,333.3 299.7,331.8 301.0,331.2 302.3,331.5 303.6,332.4 304.9,334.1 306.2,336.4 307.5,339.4 308.8,342.9 310.2,347.0 311.5,351.4 312.8,356.3 314.1,361.4 315.4,366.7 316.7,372.1 318.0,377.5 319.3,382.9 320.6,388.2 322.0,393.3 323.3,398.2 324.6,402.9 325.9,407.3 327.2,411.4 328.5,415.1 329.8,418.6 331.1,421.7 332.5,424.5 333.8,427.0 335.1,429.2 336.4,431.1 337.7,432.8 339.0,434.2 340.3,435.5 341.6,436.5 342.9,437.4 344.3,438.1 345.6,438.8 346.9,439.3 348.2,439.7 349.5,440.0 L349.5,440.0 Z"/>
<path d="M303.3,440.0 L303.3,440.0 304.5,439.6 305.6,439.2 306.7,438.6 307.9,438.0 309.0,437.2 310.2,436.4 311.3,435.4 312.4,434.2 313.6,432.9 314.7,431.4 315.9,429.8 317.0,427.9 318.1,425.9 319.3,423.7 320.4,421.2 321.6,418.6 322.7,415.8 323.8,412.9 325.0,409.8 326.1,406.6 327.2,403.4 328.4,400.1 329.5,396.7 330.7,393.4 331.8,390.2 332.9,387.1 334.1,384.1 335.2,381.4 336.4,379.0 337.5,376.8 338.6,375.0 339.8,373.5 340.9,372.5 342.1,371.8 343.2,371.6 344.3,371.8 345.5,372.5 346.6,373.5 347.8,375.0 348.9,376.8 350.0,379.0 351.2,381.4 352.3,384.1 353.5,387.1 354.6,390.2 355.7,393.4 356.9,396.7 358.0,400.1 359.1,403.4 360.3,406.6 361.4,409.8 362.6,412.9 363.7,415.8 364.8,418.6 366.0,421.2 367.1,423.7 368.3,425.9 369.4,427.9 370.5,429.8 371.7,431.4 372.8,432.9 374.0,434.2 375.1,435.4 376.2,436.4 377.4,437.2 378.5,438.0 379.7,438.6 380.8,439.2 381.9,439.6 383.1,440.0 L383.1,440.0 Z"/>
<path d="M352.8,440.0 L352.8,440.0 354.1,439.8 355.3,439.5 356.6,439.2 357.9,438.8 359.1,438.4 360.4,438.0 361.6,437.4 362.9,436.9 364.2,436.2 365.4,435.4 366.7,434.6 368.0,433.7 369.2,432.8 370.5,431.7 371.7,430.6 373.0,429.4 374.3,428.2 375.5,426.9 376.8,425.5 378.1,424.1 379.3,422.7 380.6,421.3 381.8,419.9 383.1,418.5 384.4,417.1 385.6,415.8 386.9,414.6 388.2,413.5 389.4,412.5 390.7,411.6 391.9,410.9 393.2,410.3 394.5,409.8 395.7,409.6 397.0,409.5 398.3,409.6 399.5,409.8 400.8,410.3 402.1,410.9 403.3,411.6 404.6,412.5 405.8,413.5 407.1,414.6 408.4,415.8 409.6,417.1 410.9,418.5 412.2,419.9 413.4,421.3 414.7,422.7 415.9,424.1 417.2,425.5 418.5,426.9 419.7,428.2 421.0,429.4 422.3,430.6 423.5,431.7 424.8,432.8 426.0,433.7 427.3,434.6 428.6,435.4 429.8,436.2 431.1,436.9 432.4,437.4 433.6,438.0 434.9,438.4 436.1,438.8 437.4,439.2 438.7,439.5 439.9,439.8 441.2,440.0 L441.2,440.0 Z"/>
</g>
<g fill="#000" fill-opacity="0.23" stroke="#000" stroke-opacity="0.2" stroke-width="0.8">
<path d="M277.8,660.0 L277.8,660.0 278.7,659.3 279.6,658.6 280.6,657.7 281.6,656.6 282.5,655.5 283.4,654.2 284.4,652.7 285.4,651.1 286.3,649.3 287.2,647.4 288.2,645.2 289.1,642.9 290.1,640.4 291.1,637.7 292.0,634.8 292.9,631.8 293.9,628.7 294.9,625.5 295.8,622.1 296.8,618.7 297.7,615.3 298.6,611.8 299.6,608.4 300.6,605.1 301.5,601.9 302.4,598.8 303.4,596.0 304.4,593.3 305.3,591.0 306.2,588.9 307.2,587.2 308.1,585.8 309.1,584.8 310.1,584.2 311.0,584.0 311.9,584.2 312.9,584.8 313.9,585.8 314.8,587.2 315.8,588.9 316.7,591.0 317.6,593.3 318.6,596.0 319.6,598.8 320.5,601.9 321.4,605.1 322.4,608.4 323.4,611.8 324.3,615.3 325.2,618.7 326.2,622.1 327.1,625.5 328.1,628.7 329.1,631.8 330.0,634.8 330.9,637.7 331.9,640.4 332.9,642.9 333.8,645.2 334.8,647.4 335.7,649.3 336.6,651.1 337.6,652.7 338.6,654.2 339.5,655.5 340.4,656.6 341.4,657.7 342.4,658.6 343.3,659.3 344.2,660.0 L344.2,660.0 Z"/>
<path d="M283.1,660.0 L283.1,660.0 284.9,658.5 286.7,656.8 288.5,654.8 290.3,652.6 292.2,650.0 294.0,647.0 295.8,643.7 297.6,640.0 299.4,635.9 301.3,631.3 303.1,626.3 304.9,620.8 306.7,614.9 308.6,608.6 310.4,601.8 312.2,594.7 314.0,587.2 315.8,579.4 317.7,571.4 319.5,563.1 321.3,554.8 323.1,546.4 324.9,538.1 326.8,530.0 328.6,522.1 330.4,514.6 332.2,507.6 334.1,501.1 335.9,495.3 337.7,490.2 339.5,485.9 341.3,482.5 343.2,480.0 345.0,478.5 346.8,478.0 348.6,478.5 350.4,480.0 352.3,482.5 354.1,485.9 355.9,490.2 357.7,495.3 359.6,501.1 361.4,507.6 363.2,514.6 365.0,522.1 366.8,530.0 368.7,538.1 370.5,546.4 372.3,554.8 374.1,563.1 375.9,571.4 377.8,579.4 379.6,587.2 381.4,594.7 383.2,601.8 385.1,608.6 386.9,614.9 388.7,620.8 390.5,626.3 392.3,631.3 394.2,635.9 396.0,640.0 397.8,643.7 399.6,647.0 401.4,650.0 403.3,652.6 405.1,654.8 406.9,656.8 408.7,658.5 410.6,660.0 L410.6,660.0 Z"/>
<path d="M340.7,660.0 L340.7,660.0 342.3,658.4 344.0,656.5 345.7,654.4 347.3,652.1 349.0,649.4 350.7,646.5 352.3,643.2 354.0,639.6 355.7,635.7 357.3,631.4 359.0,626.8 360.7,621.9 362.3,616.6 364.0,611.0 365.7,605.1 367.3,598.9 369.0,592.6 370.7,586.0 372.3,579.3 374.0,572.5 375.7,565.6 377.3,558.8 379.0,552.2 380.7,545.7 382.3,539.4 384.0,533.5 385.7,527.9 387.3,522.9 389.0,518.3 390.7,514.4 392.3,511.1 394.0,508.4 395.7,506.5 397.3,505.4 399.0,505.0 400.7,505.4 402.3,506.5 404.0,508.4 405.7,511.1 407.3,514.4 409.0,518.3 410.7,522.9 412.3,527.9 414.0,533.5 415.7,539.4 417.3,545.7 419.0,552.2 420.7,558.8 422.3,565.6 424.0,572.5 425.7,579.3 427.3,586.0 429.0,592.6 430.7,598.9 432.3,605.1 434.0,611.0 435.7,616.6 437.3,621.9 439.0,626.8 440.7,631.4 442.3,635.7 444.0,639.6 445.7,643.2 447.3,646.5 449.0,649.4 450.7,652.1 452.3,654.4 454.0,656.5 455.7,658.4 457.3,660.0 L457.3,660.0 Z"/>
<path d="M413.7,660.0 L413.7,660.0 414.7,659.6 415.7,659.1 416.8,658.5 417.8,657.9 418.9,657.2 419.9,656.4 420.9,655.6 422.0,654.7 423.0,653.7 424.0,652.7 425.1,651.6 426.1,650.4 427.2,649.1 428.2,647.8 429.2,646.4 430.3,645.0 431.3,643.5 432.3,642.0 433.4,640.5 434.4,638.9 435.5,637.4 436.5,635.8 437.5,634.4 438.6,632.9 439.6,631.5 440.7,630.2 441.7,629.0 442.7,627.9 443.8,626.9 444.8,626.0 445.8,625.3 446.9,624.7 447.9,624.3 449.0,624.1 450.0,624.0 451.0,624.1 452.1,624.3 453.1,624.7 454.2,625.3 455.2,626.0 456.2,626.9 457.3,627.9 458.3,629.0 459.3,630.2 460.4,631.5 461.4,632.9 462.5,634.4 463.5,635.8 464.5,637.4 465.6,638.9 466.6,640.5 467.7,642.0 468.7,643.5 469.7,645.0 470.8,646.4 471.8,647.8 472.8,649.1 473.9,650.4 474.9,651.6 476.0,652.7 477.0,653.7 478.0,654.7 479.1,655.6 480.1,656.4 481.1,657.2 482.2,657.9 483.2,658.5 484.3,659.1 485.3,659.6 486.3,660.0 L486.3,660.0 Z"/>
</g>
<g fill="#000" fill-opacity="0.23" stroke="#000" stroke-opacity="0.2" stroke-width="0.8">
<path d="M251.7,880.0 L251.7,880.0 253.0,879.7 254.2,879.2 255.4,878.7 256.6,878.0 257.8,877.2 259.0,876.3 260.2,875.1 261.5,873.8 262.7,872.2 263.9,870.4 265.1,868.3 266.3,866.0 267.5,863.4 268.7,860.4 270.0,857.2 271.2,853.8 272.4,850.0 273.6,846.1 274.8,842.0 276.0,837.7 277.2,833.4 278.5,829.0 279.7,824.7 280.9,820.6 282.1,816.7 283.3,813.1 284.5,809.8 285.7,807.0 287.0,804.7 288.2,803.0 289.4,801.9 290.6,801.4 291.8,801.5 293.0,802.1 294.2,803.2 295.4,804.6 296.7,806.5 297.9,808.8 299.1,811.4 300.3,814.4 301.5,817.5 302.7,820.9 303.9,824.4 305.2,828.1 306.4,831.8 307.6,835.5 308.8,839.2 310.0,842.8 311.2,846.3 312.4,849.7 313.7,852.9 314.9,855.9 316.1,858.8 317.3,861.4 318.5,863.9 319.7,866.1 320.9,868.1 322.2,869.9 323.4,871.5 324.6,873.0 325.8,874.2 327.0,875.3 328.2,876.3 329.4,877.1 330.7,877.8 331.9,878.4 333.1,878.9 334.3,879.4 335.5,879.7 336.7,880.0 L336.7,880.0 Z"/>
<path d="M262.5,880.0 L262.5,880.0 264.4,879.6 266.2,879.1 268.1,878.4 269.9,877.6 271.8,876.5 273.6,875.2 275.5,873.6 277.4,871.5 279.2,869.1 281.1,866.1 282.9,862.6 284.8,858.5 286.6,853.8 288.5,848.3 290.3,842.1 292.2,835.1 294.0,827.4 295.9,818.9 297.7,809.8 299.6,800.1 301.4,789.9 303.3,779.4 305.1,768.7 307.0,758.1 308.8,747.6 310.7,737.6 312.5,728.2 314.4,719.8 316.2,712.4 318.1,706.3 319.9,701.7 321.8,698.6 323.6,697.1 325.5,697.3 327.3,698.9 329.2,701.8 331.0,706.1 332.9,711.5 334.7,718.0 336.6,725.5 338.4,733.8 340.3,742.6 342.2,752.0 344.0,761.6 345.9,771.3 347.7,781.0 349.6,790.6 351.4,799.8 353.3,808.7 355.1,817.1 357.0,824.9 358.8,832.2 360.7,838.8 362.5,844.8 364.4,850.2 366.2,855.0 368.1,859.3 369.9,862.9 371.8,866.1 373.6,868.8 375.5,871.1 377.3,873.0 379.2,874.6 381.0,876.0 382.9,877.1 384.7,877.9 386.6,878.6 388.4,879.2 390.3,879.7 392.1,880.0 L392.1,880.0 Z"/>
<path d="M235.7,880.0 L235.7,880.0 239.5,879.5 243.4,878.9 247.2,878.2 251.1,877.3 254.9,876.3 258.7,875.1 262.6,873.8 266.4,872.2 270.3,870.3 274.1,868.2 278.0,865.8 281.8,863.1 285.7,860.1 289.5,856.7 293.3,853.0 297.2,849.0 301.0,844.6 304.9,839.8 308.7,834.7 312.6,829.4 316.4,823.7 320.3,817.8 324.1,811.7 327.9,805.5 331.8,799.2 335.6,792.9 339.5,786.6 343.3,780.5 347.2,774.6 351.0,769.1 354.9,763.9 358.7,759.2 362.6,755.0 366.4,751.5 370.2,748.6 374.1,746.4 377.9,745.0 381.8,744.3 385.6,744.6 389.5,745.9 393.3,748.4 397.2,751.9 401.0,756.4 404.8,761.7 408.7,767.8 412.5,774.5 416.4,781.6 420.2,789.0 424.1,796.6 427.9,804.3 431.8,811.8 435.6,819.2 439.4,826.2 443.3,832.9 447.1,839.1 451.0,844.9 454.8,850.1 458.7,854.9 462.5,859.1 466.4,862.8 470.2,866.1 474.0,868.9 477.9,871.3 481.7,873.4 485.6,875.1 489.4,876.5 493.3,877.7 497.1,878.6 501.0,879.4 504.8,880.0 L504.8,880.0 Z"/>
<path d="M240.0,880.0 L240.0,878.4 247.4,878.0 254.9,877.5 262.3,876.9 269.7,876.3 277.1,875.6 284.6,874.7 292.0,873.8 299.4,872.7 306.9,871.5 314.3,870.2 321.7,868.8 329.1,867.2 336.6,865.5 344.0,863.6 351.4,861.7 358.9,859.6 366.3,857.5 373.7,855.2 381.1,852.9 388.6,850.6 396.0,848.2 403.4,845.9 410.9,843.6 418.3,841.3 425.7,839.2 433.1,837.2 440.6,835.4 448.0,833.7 455.4,832.3 462.9,831.1 470.3,830.1 477.7,829.5 485.1,829.1 492.6,829.0 500.0,829.2 507.4,829.7 514.9,830.5 522.3,831.5 529.7,832.9 537.1,834.4 544.6,836.1 552.0,838.0 559.4,840.1 566.9,842.3 574.3,844.6 581.7,846.9 589.1,849.2 596.6,851.6 604.0,853.9 611.4,856.2 618.9,858.4 626.3,860.5 633.7,862.5 641.1,864.4 648.6,866.2 656.0,867.9 663.4,869.4 670.9,870.8 678.3,872.0 685.7,873.2 693.1,874.2 700.6,875.1 708.0,875.9 715.4,876.6 722.9,877.2 730.3,877.7 737.7,878.1 745.1,878.5 752.6,878.9 760.0,879.1 L760.0,880.0 Z"/>
</g>
<g fill="#000" fill-opacity="0.23" stroke="#000" stroke-opacity="0.2" stroke-width="0.8">
<path d="M251.5,1100.0 L251.5,1100.0 254.1,1099.1 256.7,1097.9 259.2,1096.6 261.8,1095.0 264.4,1093.1 267.0,1090.9 269.5,1088.3 272.1,1085.4 274.7,1082.0 277.3,1078.1 279.8,1073.8 282.4,1068.9 285.0,1063.5 287.6,1057.6 290.1,1051.2 292.7,1044.2 295.3,1036.7 297.9,1028.7 300.4,1020.4 303.0,1011.6 305.6,1002.6 308.2,993.4 310.7,984.2 313.3,975.0 315.9,965.9 318.5,957.1 321.1,948.7 323.6,940.9 326.2,933.8 328.8,927.4 331.4,922.0 333.9,917.6 336.5,914.2 339.1,912.1 341.7,911.1 344.2,911.3 346.8,912.8 349.4,915.4 352.0,919.3 354.5,924.3 357.1,930.2 359.7,937.1 362.3,944.7 364.8,952.9 367.4,961.7 370.0,970.8 372.6,980.2 375.1,989.6 377.7,999.0 380.3,1008.3 382.9,1017.3 385.5,1025.9 388.0,1034.2 390.6,1042.0 393.2,1049.2 395.8,1056.0 398.3,1062.1 400.9,1067.8 403.5,1072.8 406.1,1077.3 408.6,1081.3 411.2,1084.9 413.8,1088.0 416.4,1090.6 418.9,1092.9 421.5,1094.9 424.1,1096.5 426.7,1097.9 429.2,1099.0 431.8,1100.0 L431.8,1100.0 Z"/>
<path d="M336.0,1100.0 L336.0,1100.0 338.0,1097.9 340.1,1095.5 342.1,1093.0 344.2,1090.2 346.2,1087.2 348.2,1084.0 350.3,1080.6 352.3,1076.9 354.4,1072.9 356.4,1068.8 358.4,1064.4 360.5,1059.9 362.5,1055.1 364.6,1050.2 366.6,1045.2 368.6,1040.0 370.7,1034.8 372.7,1029.5 374.8,1024.2 376.8,1019.0 378.8,1013.8 380.9,1008.7 382.9,1003.7 385.0,999.0 387.0,994.5 389.0,990.2 391.1,986.3 393.1,982.8 395.2,979.6 397.2,976.9 399.2,974.6 401.3,972.8 403.3,971.5 405.4,970.8 407.4,970.5 409.4,970.8 411.5,971.5 413.5,972.8 415.6,974.6 417.6,976.9 419.6,979.6 421.7,982.8 423.7,986.3 425.8,990.2 427.8,994.5 429.8,999.0 431.9,1003.7 433.9,1008.7 436.0,1013.8 438.0,1019.0 440.0,1024.2 442.1,1029.5 444.1,1034.8 446.2,1040.0 448.2,1045.2 450.2,1050.2 452.3,1055.1 454.3,1059.9 456.4,1064.4 458.4,1068.8 460.4,1072.9 462.5,1076.9 464.5,1080.6 466.6,1084.0 468.6,1087.2 470.6,1090.2 472.7,1093.0 474.7,1095.5 476.8,1097.9 478.8,1100.0 L478.8,1100.0 Z"/>
<path d="M429.4,1100.0 L429.4,1100.0 430.9,1099.2 432.4,1098.2 434.0,1097.1 435.5,1096.0 437.0,1094.6 438.5,1093.2 440.0,1091.5 441.5,1089.8 443.0,1087.8 444.5,1085.7 446.0,1083.5 447.6,1081.1 449.1,1078.5 450.6,1075.9 452.1,1073.0 453.6,1070.1 455.1,1067.1 456.6,1064.0 458.1,1060.8 459.6,1057.6 461.1,1054.4 462.7,1051.2 464.2,1048.1 465.7,1045.1 467.2,1042.2 468.7,1039.4 470.2,1036.9 471.7,1034.5 473.2,1032.4 474.7,1030.6 476.3,1029.1 477.8,1027.9 479.3,1027.0 480.8,1026.5 482.3,1026.3 483.8,1026.5 485.3,1027.0 486.8,1027.9 488.3,1029.1 489.9,1030.6 491.4,1032.4 492.9,1034.5 494.4,1036.9 495.9,1039.4 497.4,1042.2 498.9,1045.1 500.4,1048.1 501.9,1051.2 503.4,1054.4 505.0,1057.6 506.5,1060.8 508.0,1064.0 509.5,1067.1 511.0,1070.1 512.5,1073.0 514.0,1075.9 515.5,1078.5 517.0,1081.1 518.6,1083.5 520.1,1085.7 521.6,1087.8 523.1,1089.8 524.6,1091.5 526.1,1093.2 527.6,1094.6 529.1,1096.0 530.6,1097.1 532.2,1098.2 533.7,1099.2 535.2,1100.0 L535.2,1100.0 Z"/>
<path d="M469.8,1100.0 L469.8,1100.0 471.7,1099.2 473.5,1098.3 475.4,1097.2 477.2,1096.0 479.1,1094.7 480.9,1093.2 482.8,1091.5 484.6,1089.7 486.5,1087.7 488.3,1085.5 490.2,1083.1 492.0,1080.6 493.9,1077.9 495.7,1075.0 497.6,1072.0 499.4,1068.8 501.3,1065.6 503.1,1062.3 505.0,1059.0 506.8,1055.6 508.7,1052.3 510.5,1049.0 512.4,1045.8 514.2,1042.8 516.1,1040.0 517.9,1037.4 519.8,1035.0 521.6,1033.0 523.5,1031.2 525.3,1029.9 527.2,1028.8 529.0,1028.2 530.9,1028.0 532.7,1028.1 534.6,1028.6 536.5,1029.4 538.3,1030.5 540.2,1031.8 542.0,1033.5 543.9,1035.4 545.7,1037.5 547.6,1039.8 549.4,1042.4 551.3,1045.0 553.1,1047.8 555.0,1050.7 556.8,1053.7 558.7,1056.7 560.5,1059.7 562.4,1062.7 564.2,1065.6 566.1,1068.5 567.9,1071.3 569.8,1074.1 571.6,1076.7 573.5,1079.2 575.3,1081.5 577.2,1083.8 579.0,1085.8 580.9,1087.8 582.7,1089.6 584.6,1091.3 586.4,1092.8 588.3,1094.2 590.1,1095.4 592.0,1096.6 593.8,1097.6 595.7,1098.5 597.5,1099.3 599.4,1100.0 L599.4,1100.0 Z"/>
<path d="M437.0,1099.5 C443.0,1098.0 449.0,1096.6 455.0,1095.0 C462.2,1093.1 469.4,1091.1 476.5,1089.0 C484.3,1086.8 492.0,1084.4 499.8,1082.1 C507.5,1079.8 515.3,1077.4 523.0,1075.1 C530.8,1072.8 538.5,1070.3 546.3,1068.1 C552.5,1066.4 558.7,1064.9 564.9,1063.5 C570.3,1062.2 575.7,1060.9 581.2,1060.0 C586.6,1059.2 592.0,1058.8 597.4,1058.4 C601.6,1058.1 605.8,1057.9 610.0,1058.1 C614.0,1058.3 618.1,1058.7 622.0,1059.5 C627.8,1060.7 633.8,1061.7 639.3,1064.0 C649.1,1068.0 657.8,1074.5 667.7,1078.2 C676.8,1081.6 686.5,1083.4 696.1,1085.3 C705.5,1087.2 715.2,1087.7 724.6,1089.5 C734.1,1091.3 743.7,1093.2 753.0,1096.0 C754.9,1096.6 756.3,1098.3 758.0,1099.5 L758.0,1100.0 L437.0,1100.0 Z"/>
</g>
<path d="M45,880.7 H759" stroke="#000" stroke-opacity="0.6" stroke-width="5" fill="none"/>
<path d="M40.9,440.6 H761" stroke="#c8c8c8" stroke-opacity="0.42" stroke-width="1.3" stroke-dasharray="12 12.55" fill="none"/>
<path d="M40.9,876.8 H250" stroke="#c8c8c8" stroke-opacity="0.80" stroke-width="1.3" stroke-dasharray="12 12.55" fill="none"/>
<path d="M40.9,1099.6 H520" stroke="#c8c8c8" stroke-opacity="0.45" stroke-width="1.3" stroke-dasharray="12 12.55" fill="none"/>
<path d="M40.9,1099.6 H761" stroke="#c8c8c8" stroke-opacity="0.18" stroke-width="1.3" stroke-dasharray="12 12.55" fill="none"/>
<path d="M271.7,2.3 V1102" stroke="#ff0086" stroke-width="3.5" stroke-linecap="round" stroke-dasharray="14.5 19.37" fill="none"/>
<g font-family="'Liberation Sans', Arial, Helvetica, sans-serif" font-size="29" fill="#000" stroke="#000" stroke-width="0.45" stroke-linejoin="round">
<path d="M497.7,40.9 H579.3" stroke="#ff8600" stroke-width="5.6" stroke-linecap="round"/>
<text x="593.0" y="52.8">Entry 17</text>
<path d="M497.7,259.9 H579.3" stroke="#00009e" stroke-width="5.6" stroke-linecap="round"/>
<text x="593.0" y="271.2">Entry 18</text>
<path d="M497.7,480.2 H579.3" stroke="#8000ff" stroke-width="5.6" stroke-linecap="round"/>
<text x="593.0" y="489.0">Entry 19</text>
<path d="M454.7,699.2 H535.0" stroke="#ff0000" stroke-width="5.6" stroke-linecap="round"/>
<text x="548.8" y="709.6">Commer-1</text>
<path d="M452.7,920.0 H533.3" stroke="#0000ff" stroke-width="5.6" stroke-linecap="round"/>
<text x="547.8" y="929.6">Commer-2</text>
<text x="43.4" y="1149.6" font-size="30" text-anchor="middle">8</text>
<text x="187.2" y="1149.6" font-size="30" text-anchor="middle">10</text>
<text x="331.0" y="1149.6" font-size="30" text-anchor="middle">12</text>
<text x="474.8" y="1149.6" font-size="30" text-anchor="middle">14</text>
<text x="618.6" y="1149.6" font-size="30" text-anchor="middle">16</text>
<text x="762.4" y="1149.6" font-size="30" text-anchor="middle">18</text>
<text x="402.7" y="1192.6" text-anchor="middle">Elution time (min)</text>
<text transform="translate(21.2,559.3) rotate(-90)" text-anchor="middle">Normalized intensity</text>
</g>
</svg>
</body></html>
